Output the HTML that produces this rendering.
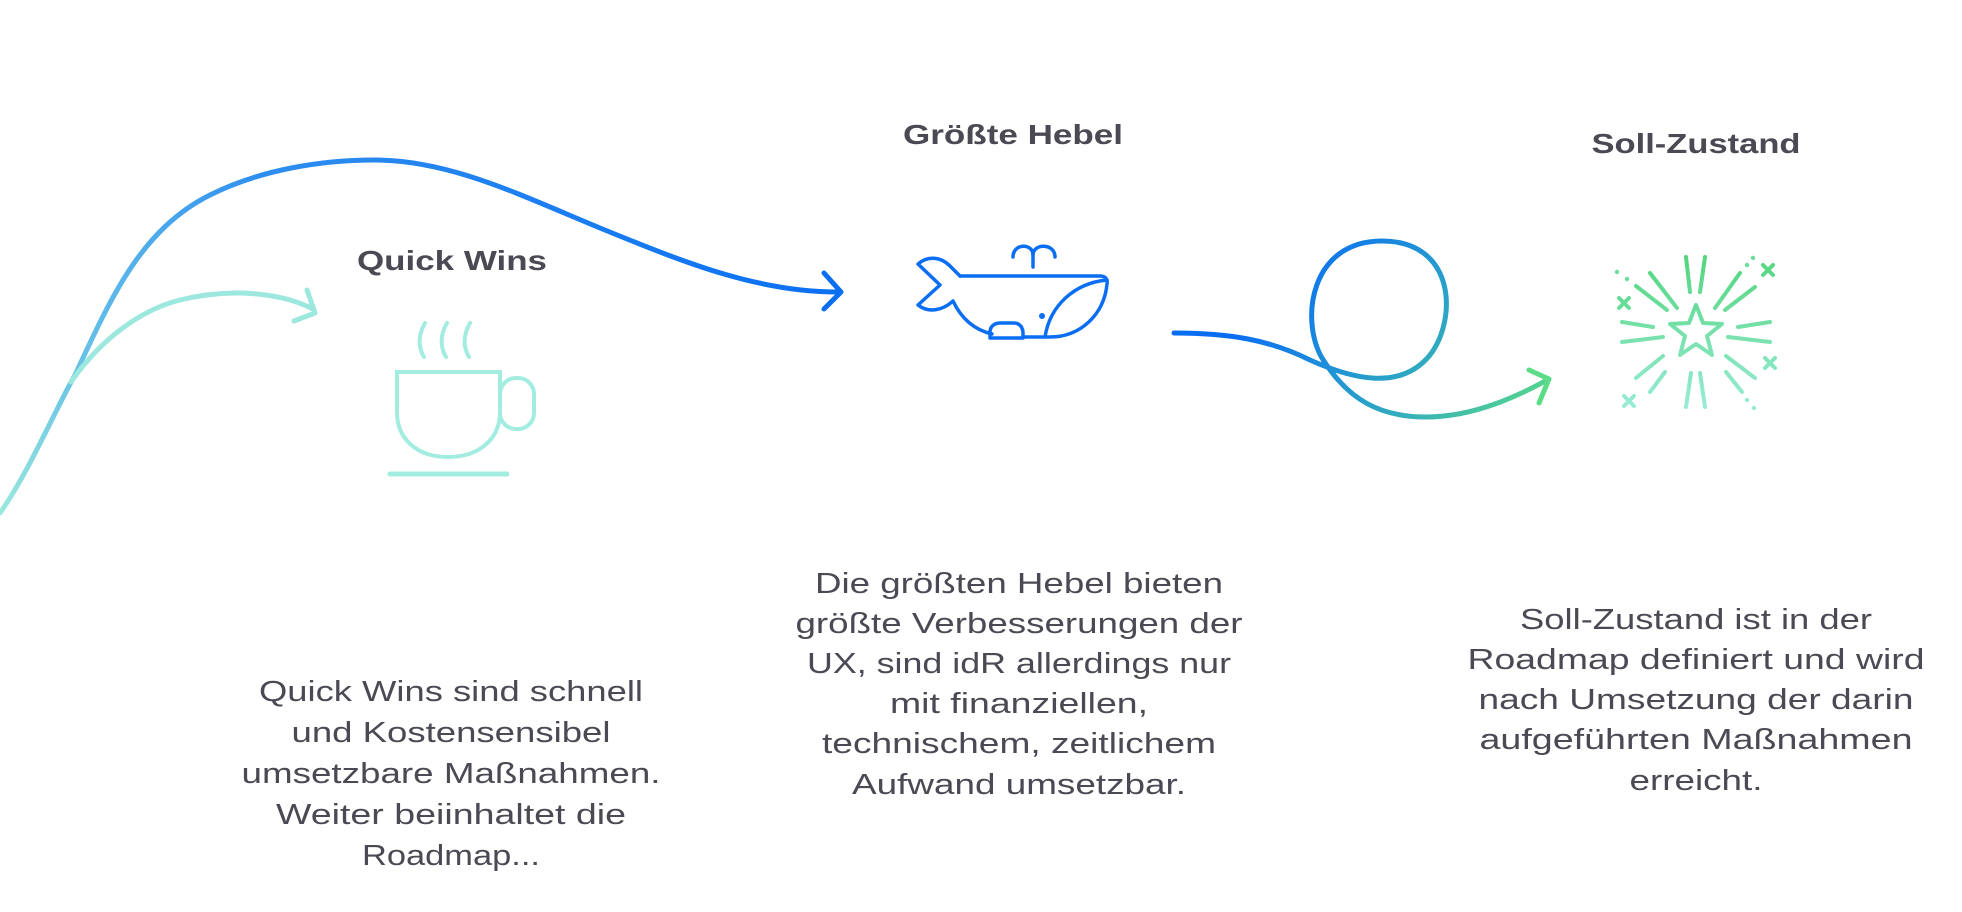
<!DOCTYPE html>
<html><head><meta charset="utf-8"><style>
html,body{margin:0;padding:0;background:#fff;}
svg{display:block;}
text{font-family:"Liberation Sans",sans-serif;fill:#4b4a54;}
.t{font-weight:bold;font-size:28px;}
.p{font-size:29px;}
</style></head><body>
<svg width="1962" height="912" viewBox="0 0 1962 912" xmlns="http://www.w3.org/2000/svg">
<defs>
<linearGradient id="g1" gradientUnits="userSpaceOnUse" x1="0" y1="513" x2="840" y2="250">
<stop offset="0" stop-color="#9be8dc"/><stop offset="0.12" stop-color="#6cc6e6"/><stop offset="0.4" stop-color="#2e8ef0"/><stop offset="1" stop-color="#0a6ef2"/>
</linearGradient>
<linearGradient id="g2" gradientUnits="userSpaceOnUse" x1="1300" y1="240" x2="1550" y2="420">
<stop offset="0" stop-color="#0a6ef2"/><stop offset="0.5" stop-color="#2aa3c8"/><stop offset="1" stop-color="#5cdc86"/>
</linearGradient>
<linearGradient id="g3" gradientUnits="userSpaceOnUse" x1="0" y1="255" x2="0" y2="410">
<stop offset="0" stop-color="#52d57c"/><stop offset="1" stop-color="#9aecd8"/>
</linearGradient>
</defs>

<!-- big curve -->
<path d="M0,513 C30,470 55,410 75,375 C110,300 140,230 210,195 C260,170 320,160 375,160 C450,160 520,195 600,228 C690,265 760,292 838,292" fill="none" stroke="url(#g1)" stroke-width="5" stroke-linecap="round"/>
<path d="M824,273 L841,292 L824,309" fill="none" stroke="#0a6ef2" stroke-width="5" stroke-linecap="round" stroke-linejoin="round"/>
<!-- light curve -->
<path d="M71,382 C100,340 140,310 180,300 C230,288 280,292 313,309" fill="none" stroke="#9de8de" stroke-width="5" stroke-linecap="round"/>
<path d="M307,290 L315,313 L294,321" fill="none" stroke="#9de8de" stroke-width="5" stroke-linecap="round" stroke-linejoin="round"/>

<!-- cup -->
<g fill="none" stroke="#a2ece0" stroke-width="4" stroke-linecap="round">
<path d="M397,372 L500,372 L500,412 C500,440 478,457 448,457 C418,457 397,440 397,412 Z"/>
<rect x="500" y="378" width="34" height="51" rx="16"/>
<line x1="390" y1="474" x2="507" y2="474" stroke-width="5"/>
<path d="M425,323 C418,335 418,347 424,357"/>
<path d="M447,323 C440,335 440,347 446,357"/>
<path d="M470,323 C463,335 463,347 469,357"/>
</g>

<!-- whale -->
<g fill="none" stroke="#0a6ef2" stroke-width="3.5" stroke-linecap="round" stroke-linejoin="round">
<path d="M960,276 L1100,276 C1106,276 1108,280 1107,284 C1104,315 1080,337 1050,337 L1023,337"/>
<path d="M960,276 L950,266 C940,256 927,256 918,264 L940,285 L918,305 C928,313 942,311 953,301 C962,320 975,330 992,334"/>
<path d="M1045,337 C1050,305 1075,283 1107,280"/>
<path d="M990,338 L990,332 C990,326 995,323 1000,323 L1014,323 C1020,323 1023,328 1023,333 L1023,338 Z"/>
<path d="M1033,267 L1033,255 C1033,243 1013,243 1013,257"/>
<path d="M1033,255 C1033,243 1055,243 1055,257"/>
</g>
<circle cx="1042" cy="316" r="3" fill="#0a6ef2"/>

<!-- loop -->
<path d="M1174,333 C1230,333 1270,340 1310,360 C1350,378 1400,392 1430,355 C1458,318 1455,241 1382,241 C1310,241 1300,320 1322,358 C1348,400 1380,417 1426,417 C1475,417 1520,395 1549,379" fill="none" stroke="url(#g2)" stroke-width="5" stroke-linecap="round"/>
<path d="M1529,370 L1549,379 L1539,403" fill="none" stroke="#5cdc86" stroke-width="5" stroke-linecap="round" stroke-linejoin="round"/>

<!-- star burst -->
<g stroke="url(#g3)" stroke-width="4" stroke-linecap="round" fill="none">
<polygon points="1696,305 1703,323 1722,324 1707,336 1712,355 1696,344 1680,355 1685,336 1670,324 1689,323" stroke-linejoin="round"/>
<line x1="1686" y1="257" x2="1690" y2="292"/><line x1="1705" y1="257" x2="1700" y2="292"/>
<line x1="1650" y1="273" x2="1677" y2="308"/><line x1="1636" y1="286" x2="1667" y2="310"/>
<line x1="1740" y1="273" x2="1715" y2="308"/><line x1="1755" y1="287" x2="1725" y2="310"/>
<line x1="1622" y1="322" x2="1653" y2="327"/><line x1="1622" y1="342" x2="1663" y2="337"/>
<line x1="1770" y1="322" x2="1738" y2="327"/><line x1="1770" y1="342" x2="1728" y2="337"/>
<line x1="1663" y1="356" x2="1636" y2="378"/><line x1="1665" y1="372" x2="1650" y2="392"/>
<line x1="1726" y1="356" x2="1755" y2="378"/><line x1="1726" y1="372" x2="1742" y2="392"/>
<line x1="1691" y1="373" x2="1686" y2="407"/><line x1="1700" y1="373" x2="1705" y2="407"/>
<path d="M1619,298 l10,10 M1629,298 l-10,10"/>
<path d="M1763,265 l10,10 M1773,265 l-10,10"/>
<path d="M1765,358 l10,10 M1775,358 l-10,10"/>
<path d="M1624,396 l10,10 M1634,396 l-10,10"/>
</g>
<g fill="#6ade98">
<circle cx="1617" cy="272" r="2.2"/><circle cx="1627" cy="279" r="2.2"/>
<circle cx="1747" cy="265" r="2.2"/><circle cx="1753" cy="258" r="2.2"/>
<circle cx="1747" cy="400" r="2.2" fill="#96eacf"/><circle cx="1754" cy="408" r="2.2" fill="#96eacf"/>
</g>

<!-- titles -->
<text class="t" x="452" y="270" text-anchor="middle" textLength="190" lengthAdjust="spacingAndGlyphs">Quick Wins</text>
<text class="t" x="1013" y="144" text-anchor="middle" textLength="220" lengthAdjust="spacingAndGlyphs">Größte Hebel</text>
<text class="t" x="1696" y="153" text-anchor="middle" textLength="209" lengthAdjust="spacingAndGlyphs">Soll-Zustand</text>

<!-- paragraphs -->
<g class="p" text-anchor="middle">
<text class="p" x="451" y="701" textLength="384" lengthAdjust="spacingAndGlyphs">Quick Wins sind schnell</text>
<text class="p" x="451" y="742" textLength="319" lengthAdjust="spacingAndGlyphs">und Kostensensibel</text>
<text class="p" x="451" y="783" textLength="419" lengthAdjust="spacingAndGlyphs">umsetzbare Maßnahmen.</text>
<text class="p" x="451" y="824" textLength="350" lengthAdjust="spacingAndGlyphs">Weiter beiinhaltet die</text>
<text class="p" x="451" y="865" textLength="178" lengthAdjust="spacingAndGlyphs">Roadmap...</text>

<text class="p" x="1019" y="593" textLength="408" lengthAdjust="spacingAndGlyphs">Die größten Hebel bieten</text>
<text class="p" x="1019" y="633" textLength="447" lengthAdjust="spacingAndGlyphs">größte Verbesserungen der</text>
<text class="p" x="1019" y="673" textLength="424" lengthAdjust="spacingAndGlyphs">UX, sind idR allerdings nur</text>
<text class="p" x="1019" y="713" textLength="258" lengthAdjust="spacingAndGlyphs">mit finanziellen,</text>
<text class="p" x="1019" y="753" textLength="394" lengthAdjust="spacingAndGlyphs">technischem, zeitlichem</text>
<text class="p" x="1019" y="794" textLength="334" lengthAdjust="spacingAndGlyphs">Aufwand umsetzbar.</text>

<text class="p" x="1696" y="629" textLength="352" lengthAdjust="spacingAndGlyphs">Soll-Zustand ist in der</text>
<text class="p" x="1696" y="669" textLength="457" lengthAdjust="spacingAndGlyphs">Roadmap definiert und wird</text>
<text class="p" x="1696" y="709" textLength="435" lengthAdjust="spacingAndGlyphs">nach Umsetzung der darin</text>
<text class="p" x="1696" y="749" textLength="433" lengthAdjust="spacingAndGlyphs">aufgeführten Maßnahmen</text>
<text class="p" x="1696" y="790" textLength="133" lengthAdjust="spacingAndGlyphs">erreicht.</text>
</g>
</svg>
</body></html>
